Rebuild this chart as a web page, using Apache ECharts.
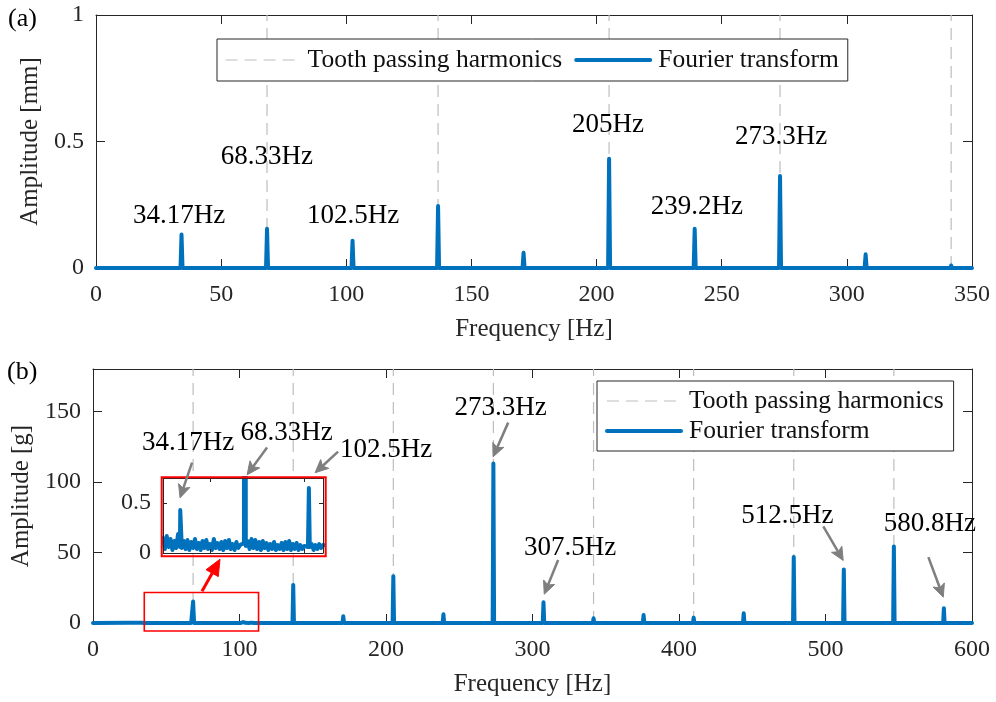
<!DOCTYPE html>
<html>
<head>
<meta charset="utf-8">
<script src="https://cdn.jsdelivr.net/npm/echarts@6/dist/echarts.min.js"></script>
<style>
  html, body { margin: 0; padding: 0; background: #fff; }
  #chart { width: 996px; height: 702px; }
</style>
</head>
<body>
<div id="chart"></div>
<script>
// ---- data ---------------------------------------------------------------
// (a) displacement spectrum: peak frequencies [Hz] and amplitudes [mm]
const peakFreqA = [34.17, 68.33, 102.5, 136.67, 170.83, 205, 239.2, 273.3, 307.5, 341.67];
const peakAmpA  = [0.132, 0.155, 0.108, 0.245, 0.060, 0.432, 0.155, 0.364, 0.054, 0.010];
const labeledPeaksA = [0, 1, 2, 5, 6, 7];

// (b) acceleration spectrum: peak frequencies [Hz] and amplitudes [g]
const peakFreqB = [34.17, 68.33, 102.5, 136.67, 170.83, 205, 239.2, 273.3, 307.5,
                   341.67, 375.83, 410, 444.17, 478.33, 512.5, 546.67, 580.8];
const peakAmpB  = [0.43, 15.2, 0.65, 27.0, 4.8, 33.2, 6.2, 113.0, 14.7,
                   3.4, 5.7, 3.8, 6.9, 46.7, 38.0, 54.3, 10.5];
const labeledPeaksB = [0, 1, 2, 7, 8, 14, 16];

// (b) low-level floor in the detail window, 1 Hz steps starting at 25 Hz
const floorStartB = 25;
const floorB = [
  0.15, 0.04, 0.17, 0.06, 0.14, 0.03, 0.12, 0.05, 0.19, 0.06,
  0.05, 0.12, 0.04, 0.13, 0.03, 0.11, 0.05, 0.14, 0.04, 0.10,
  0.03, 0.12, 0.05, 0.13, 0.04, 0.09, 0.03, 0.14, 0.05, 0.10,
  0.04, 0.11, 0.03, 0.12, 0.05, 0.13, 0.04, 0.09, 0.03, 0.11,
  0.05, 0.08, 0.06, 0.10, 0.07, 0.12, 0.04, 0.14, 0.05, 0.13,
  0.04, 0.11, 0.03, 0.12, 0.05, 0.10, 0.03, 0.09, 0.04, 0.11,
  0.03, 0.08, 0.04, 0.10, 0.03, 0.11, 0.04, 0.12, 0.03, 0.09,
  0.04, 0.10, 0.03, 0.08, 0.04, 0.07, 0.05, 0.06, 0.06, 0.09,
  0.03, 0.08, 0.04, 0.09, 0.05, 0.08
];

// tooth passing harmonics [Hz]
const toothHarmonics = [68.33, 136.67, 205, 273.3, 341.67, 410, 478.33, 546.67];

// axis ranges
const axisA = { xMin: 0, xMax: 350, xStep: 50, yMin: 0, yMax: 1, yStep: 0.5, showMax: true };
const axisB = { xMin: 0, xMax: 600, xStep: 100, yMin: 0, yMax: 180, yStep: 50, showMax: false };
const axisDetail = { xMin: 25, xMax: 110, xTicks: [50, 100], yMin: 0, yMax: 0.75, yStep: 0.5, showMax: false };

// ---- styling ------------------------------------------------------------
const FONT = "'Liberation Serif', 'Times New Roman', serif";
const INK = '#262626';
const BLUE = '#0072BD';
const GRID_DASH = '#bdbdbd';
const ARROW_GRAY = '#7f7f7f';

// ---- series builders ----------------------------------------------------
function spikes(freqs, amps, xMax, halfWidth) {
  const pts = [[0, 0]];
  freqs.forEach((f, i) => pts.push([f - halfWidth, 0], [f, amps[i]], [f + halfWidth, 0]));
  pts.push([xMax, 0]);
  return pts;
}

function spectrumB() {
  const pts = [[0, 0]];
  floorB.forEach((v, i) => pts.push([floorStartB + i, v]));
  const floorEnd = floorStartB + floorB.length - 1;
  peakFreqB.forEach((f, i) => {
    if (f > floorStartB && f < floorEnd) pts.push([f, peakAmpB[i]]);
    else pts.push([f - 0.5, 0], [f, peakAmpB[i]], [f + 0.5, 0]);
  });
  pts.push([axisB.xMax, 0]);
  pts.sort((a, b) => a[0] - b[0]);
  return pts;
}

function harmonicLines(xMax, yMax) {
  const pts = [];
  toothHarmonics.filter(h => h <= xMax).forEach(h => pts.push([h, 0], [h, yMax], [h, '-']));
  return pts;
}

// ---- axes ---------------------------------------------------------------
function boxX(grid, r, named, tickLen, z) {
  const base = {
    type: 'value', gridIndex: grid, min: r.xMin, max: r.xMax,
    axisLine: { show: true, onZero: false, lineStyle: { color: INK, width: 1 } },
    axisTick: { show: true, inside: true, length: tickLen, lineStyle: { color: INK, width: 1 } },
    splitLine: { show: false }, z: z || 0
  };
  if (r.xStep) base.interval = r.xStep;
  if (r.xTicks) base.axisTick.customValues = r.xTicks;
  const bottom = Object.assign({}, base, {
    position: 'bottom',
    axisLabel: { show: named, margin: 15, color: INK, fontSize: 24, fontFamily: FONT }
  });
  if (named) {
    Object.assign(bottom, {
      name: 'Frequency [Hz]', nameLocation: 'middle', nameGap: 49,
      nameTextStyle: { color: INK, fontSize: 25, fontFamily: FONT }
    });
  }
  const top = Object.assign({}, base, { position: 'top', axisLabel: { show: false } });
  return [bottom, top];
}

function boxY(grid, r, name, nameGap, tickLen, z) {
  const base = {
    type: 'value', gridIndex: grid, min: r.yMin, max: r.yMax, interval: r.yStep,
    axisLine: { show: true, onZero: false, lineStyle: { color: INK, width: 1 } },
    axisTick: { show: true, inside: true, length: tickLen, lineStyle: { color: INK, width: 1 } },
    splitLine: { show: false }, z: z || 0
  };
  const left = Object.assign({}, base, {
    position: 'left',
    axisLabel: { show: true, margin: 12, color: INK, fontSize: 24, fontFamily: FONT, showMaxLabel: r.showMax }
  });
  if (name) {
    Object.assign(left, {
      name: name, nameLocation: 'middle', nameGap: nameGap,
      nameTextStyle: { color: INK, fontSize: 25, fontFamily: FONT }
    });
  }
  const right = Object.assign({}, base, { position: 'right', axisLabel: { show: false } });
  return [left, right];
}

const legendNames = ['Tooth passing harmonics', 'Fourier transform'];
const legendText = { color: '#111', fontSize: 25.5, fontFamily: FONT, padding: [0, 0, 0, 3] };
const legendCommon = {
  data: legendNames, itemWidth: 74, itemHeight: 2,
  itemStyle: { opacity: 0 },
  lineStyle: { width: 'inherit', type: 'inherit' },
  borderColor: INK, borderWidth: 1, backgroundColor: '#fff',
  selectedMode: false, textStyle: legendText
};

const option = {
  backgroundColor: '#fff',
  animation: false,
  grid: [
    { left: 96, right: 24, top: 15, height: 253 },
    { left: 93, right: 24, top: 369, height: 254 },
    { left: 163, top: 478, width: 160, height: 75 }
  ],
  xAxis: [].concat(boxX(0, axisA, true, 9), boxX(1, axisB, true, 9), boxX(2, axisDetail, false, 4, 5)),
  yAxis: [].concat(boxY(0, axisA, 'Amplitude [mm]', 49, 9), boxY(1, axisB, 'Amplitude [g]', 57, 9),
                   boxY(2, axisDetail, null, 0, 4, 5)),
  legend: [
    Object.assign({}, legendCommon, {
      orient: 'horizontal', left: 217, top: 39, padding: [8, 9, 8, 8], itemGap: 12
    }),
    Object.assign({}, legendCommon, {
      orient: 'vertical', left: 597, top: 381, padding: [7, 10, 7, 8], itemGap: 4
    })
  ],
  series: [
    {
      name: 'Tooth passing harmonics', type: 'line', xAxisIndex: 0, yAxisIndex: 0,
      data: harmonicLines(axisA.xMax, axisA.yMax), symbol: 'none', connectNulls: false,
      lineStyle: { color: GRID_DASH, width: 1.2, type: [12, 7] }, itemStyle: { color: GRID_DASH },
      silent: true, z: 1
    },
    {
      name: 'Fourier transform', type: 'line', xAxisIndex: 0, yAxisIndex: 0,
      data: spikes(peakFreqA, peakAmpA, axisA.xMax, 0.4), symbol: 'none',
      lineStyle: { color: BLUE, width: 4, join: 'round', cap: 'round' }, itemStyle: { color: BLUE },
      silent: true, z: 2
    },
    {
      name: 'Tooth passing harmonics', type: 'line', xAxisIndex: 2, yAxisIndex: 2,
      data: harmonicLines(axisB.xMax, axisB.yMax), symbol: 'none', connectNulls: false,
      lineStyle: { color: GRID_DASH, width: 1.2, type: [12, 7] }, itemStyle: { color: GRID_DASH },
      silent: true, z: 1
    },
    {
      name: 'Fourier transform', type: 'line', xAxisIndex: 2, yAxisIndex: 2,
      data: spectrumB(), symbol: 'none',
      lineStyle: { color: BLUE, width: 4, join: 'round', cap: 'round' }, itemStyle: { color: BLUE },
      silent: true, z: 2
    },
    {
      name: 'detail', type: 'line', xAxisIndex: 4, yAxisIndex: 4,
      data: spectrumB(), symbol: 'none', clip: true,
      lineStyle: { color: BLUE, width: 4, join: 'round', cap: 'round' }, itemStyle: { color: BLUE },
      silent: true, z: 4
    }
  ]
};

const chart = echarts.init(document.getElementById('chart'), null, { renderer: 'canvas' });
chart.setOption(option);

// ---- annotations --------------------------------------------------------
const toPx = (xi, yi, p) => chart.convertToPixel({ xAxisIndex: xi, yAxisIndex: yi }, p);
const hzText = f => String(f) + 'Hz';

// label centres in data units, one per labelled peak
const labelSpotA = [[33.2, 0.206], [68.3, 0.439], [102.7, 0.206], [204.6, 0.565], [240.1, 0.241], [273.7, 0.518]];
const labelSpotB = [[64.9, 127.8], [132.1, 134.9], [200.1, 122.8], [278.3, 152.7], [325.7, 53.1], [473.9, 75.9], [571.2, 70.2]];
// arrow tail/tip pairs in data units of panel (b)
const arrowSpotB = [
  [[67.6, 113.6], [59.4, 88.7]],
  [[118.8, 124.3], [105.2, 105.0]],
  [[167.3, 121.4], [151.6, 106.5]],
  [[283.4, 142.0], [273.1, 117.8]],
  [[317.5, 44.6], [308.0, 20.4]],
  [[498.5, 68.5], [512.1, 44.3]],
  [[570.2, 46.7], [580.4, 18.3]]
];
const zoomBoxB = { f0: 35, f1: 113, a0: -5.7, a1: 21.6 };
const zoomArrowB = [[74.4, 22.5], [86.7, 45.2]];

function textEl(str, p, size, z) {
  return {
    type: 'text', z: z || 10,
    style: {
      text: str, x: p[0], y: p[1], fill: '#000',
      fontSize: size, fontFamily: FONT,
      align: 'center', verticalAlign: 'middle',
      textAlign: 'center', textVerticalAlign: 'middle'
    }
  };
}

function arrowEls(tail, tip, color, width, headLen, headW, notch) {
  const dx = tip[0] - tail[0], dy = tip[1] - tail[1];
  const len = Math.hypot(dx, dy);
  const ux = dx / len, uy = dy / len, nx = -uy, ny = ux;
  const bx = tip[0] - ux * headLen, by = tip[1] - uy * headLen;
  const shaftEnd = [tip[0] - ux * (headLen - notch), tip[1] - uy * (headLen - notch)];
  return [
    { type: 'line', z: 10, shape: { x1: tail[0], y1: tail[1], x2: shaftEnd[0], y2: shaftEnd[1] },
      style: { stroke: color, lineWidth: width } },
    { type: 'polygon', z: 10,
      shape: { points: [tip, [bx + nx * headW / 2, by + ny * headW / 2], shaftEnd, [bx - nx * headW / 2, by - ny * headW / 2]] },
      style: { fill: color, stroke: color, lineWidth: 1 } }
  ];
}

const els = [];
els.push({ type: 'text', z: 10, style: { text: '(a)', x: 8, y: 19, fill: '#000', fontSize: 26, fontFamily: FONT,
  align: 'left', verticalAlign: 'middle', textAlign: 'left', textVerticalAlign: 'middle' } });
els.push({ type: 'text', z: 10, style: { text: '(b)', x: 7, y: 372, fill: '#000', fontSize: 26, fontFamily: FONT,
  align: 'left', verticalAlign: 'middle', textAlign: 'left', textVerticalAlign: 'middle' } });

labeledPeaksA.forEach((idx, k) => els.push(textEl(hzText(peakFreqA[idx]), toPx(0, 0, labelSpotA[k]), 27)));
labeledPeaksB.forEach((idx, k) => els.push(textEl(hzText(peakFreqB[idx]), toPx(2, 2, labelSpotB[k]), 27)));
arrowSpotB.forEach(a => els.push(...arrowEls(toPx(2, 2, a[0]), toPx(2, 2, a[1]), ARROW_GRAY, 2.5, 13, 12, 3)));

// detail window: white backing, frame, marked range on panel (b) and the pointer between them
const dTL = toPx(4, 4, [axisDetail.xMin, axisDetail.yMax]);
const dBR = toPx(4, 4, [axisDetail.xMax, axisDetail.yMin]);
els.push({ type: 'rect', z: 3, shape: { x: dTL[0], y: dTL[1], width: dBR[0] - dTL[0], height: dBR[1] - dTL[1] },
  style: { fill: '#fff' }, silent: true });
els.push({ type: 'rect', z: 9, shape: { x: dTL[0] - 1.3, y: dTL[1] - 0.7, width: dBR[0] - dTL[0] + 4, height: dBR[1] - dTL[1] + 4 },
  style: { fill: 'none', stroke: '#ff0000', lineWidth: 2 }, silent: true });
const zTL = toPx(2, 2, [zoomBoxB.f0, zoomBoxB.a1]);
const zBR = toPx(2, 2, [zoomBoxB.f1, zoomBoxB.a0]);
els.push({ type: 'rect', z: 9, shape: { x: zTL[0], y: zTL[1], width: zBR[0] - zTL[0], height: zBR[1] - zTL[1] },
  style: { fill: 'none', stroke: '#ff0000', lineWidth: 1.6 }, silent: true });
els.push(...arrowEls(toPx(2, 2, zoomArrowB[0]), toPx(2, 2, zoomArrowB[1]), '#ff0000', 3, 16, 14, 0));

chart.setOption({ graphic: { elements: els } });
</script>
</body>
</html>
